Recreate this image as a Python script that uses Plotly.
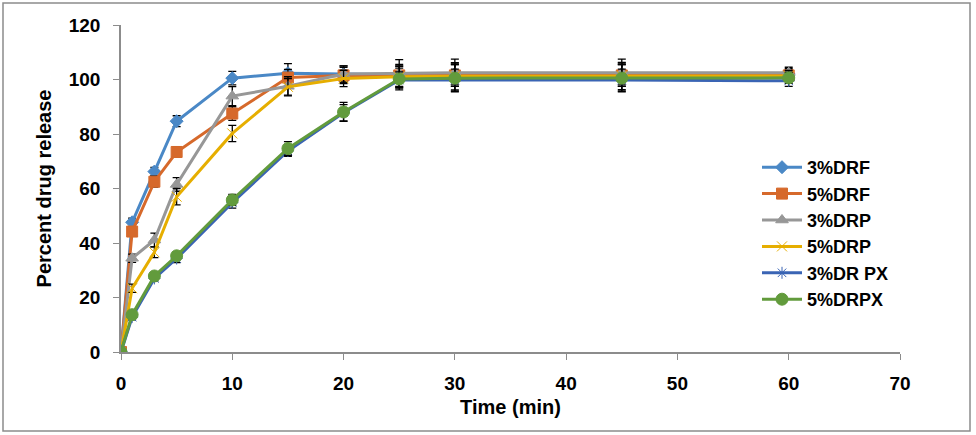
import plotly.graph_objects as go

time_min = [0, 1, 3, 5, 10, 15, 20, 25, 30, 45, 60]

series_names = ["3%DRF", "5%DRF", "3%DRP", "5%DRP", "3%DR PX", "5%DRPX"]

drf3 = [0, 47.6, 66.2, 84.7, 100.5, 102.3, 102.0, 101.8, 102.0, 102.0, 102.0]
drf5 = [0, 44.2, 62.5, 73.4, 87.5, 100.7, 101.5, 101.5, 101.5, 101.5, 101.5]
drp3 = [0, 34.4, 41.1, 61.5, 93.9, 97.5, 102.0, 102.3, 102.5, 102.5, 102.5]
drp5 = [0, 23.4, 36.6, 57.0, 80.2, 97.3, 100.4, 101.0, 101.2, 101.3, 101.3]
drpx3 = [0, 12.8, 27.0, 34.3, 54.8, 73.8, 87.8, 99.8, 99.8, 99.8, 99.5]
drpx5 = [0, 13.7, 27.9, 35.3, 55.8, 74.7, 88.1, 100.2, 100.5, 100.5, 100.6]

err_drf3 = [0, 1.5, 1.5, 2.0, 2.5, 3.5, 3.0, 3.0, 4.0, 4.0, 2.0]
err_drf5 = [0, 1.5, 2.0, 2.0, 2.5, 3.0, 3.0, 4.0, 4.0, 4.0, 2.0]
err_drp3 = [0, 1.5, 2.5, 2.5, 3.5, 3.5, 3.0, 5.0, 5.0, 5.0, 2.0]
err_drp5 = [0, 1.5, 2.0, 3.0, 3.0, 3.0, 3.0, 4.0, 5.0, 5.0, 2.0]
err_drpx3 = [0, 1.0, 1.0, 1.5, 2.0, 2.0, 3.0, 3.0, 4.0, 4.0, 2.0]
err_drpx5 = [0, 1.0, 1.0, 1.5, 2.0, 2.5, 3.5, 4.0, 5.0, 5.0, 2.0]

values = [drf3, drf5, drp3, drp5, drpx3, drpx5]
errors = [err_drf3, err_drf5, err_drp3, err_drp5, err_drpx3, err_drpx5]
colors = ["#4A88C6", "#D6692B", "#979797", "#E6AE00", "#3A64B4", "#629B3C"]
symbols = ["diamond", "square", "triangle-up", "x-thin-open", "asterisk-open", "circle"]
sizes = [10, 11, 11, 10, 10, 12]

fig = go.Figure()
for name, y, e, c, s, sz in zip(series_names, values, errors, colors, symbols, sizes):
    fig.add_trace(go.Scatter(
        x=time_min, y=y, name=name, mode="lines+markers",
        line=dict(color=c, width=3),
        marker=dict(symbol=s, size=sz, color=c, line=dict(color=c, width=1)),
        error_y=dict(type="data", array=e, visible=True, color="black", thickness=1.3, width=4),
    ))

W, H = 976, 435
L, R, T, B = 121, 76, 25, 83
pw, ph = W - L - R, H - T - B

fig.update_layout(
    width=W, height=H,
    margin=dict(l=L, r=R, t=T, b=B),
    paper_bgcolor="white", plot_bgcolor="white",
    font=dict(family="Liberation Sans, Arial", size=19, color="black"),
    showlegend=True,
    legend=dict(x=(757 - L) / pw, y=(352 - 149) / ph, xanchor="left", yanchor="top",
                font=dict(size=18, family="Liberation Sans, Arial", color="black", weight="bold"),
                bgcolor="rgba(0,0,0,0)", tracegroupgap=0, itemwidth=40),
    shapes=[dict(type="rect", xref="paper", yref="paper",
                 x0=(3 - L) / pw, x1=(970 - L) / pw, y0=(352 - 431) / ph, y1=(352 - 3) / ph,
                 line=dict(color="#8C8C8C", width=1.5))],
)
fig.update_xaxes(
    range=[0, 70], tickvals=[0, 10, 20, 30, 40, 50, 60, 70],
    showgrid=False, zeroline=False, showline=True, linecolor="#8C8C8C", linewidth=1.5,
    ticks="outside", ticklen=6, tickcolor="#8C8C8C", ticklabelstandoff=7,
    tickfont=dict(size=19, weight="bold"),
    title=dict(text="<b>Time (min)</b>", font=dict(size=20), standoff=7),
)
fig.update_yaxes(
    range=[0, 120], tickvals=[0, 20, 40, 60, 80, 100, 120],
    showgrid=False, zeroline=False, showline=True, linecolor="#8C8C8C", linewidth=1.5,
    ticks="outside", ticklen=6, tickcolor="#8C8C8C", ticklabelstandoff=9,
    tickfont=dict(size=19, weight="bold"),
    title=dict(text="<b>Percent drug release</b>", font=dict(size=20), standoff=12),
)

fig.write_html("out.html", config={"displayModeBar": False},
               post_script="document.body.style.margin='0px';")
